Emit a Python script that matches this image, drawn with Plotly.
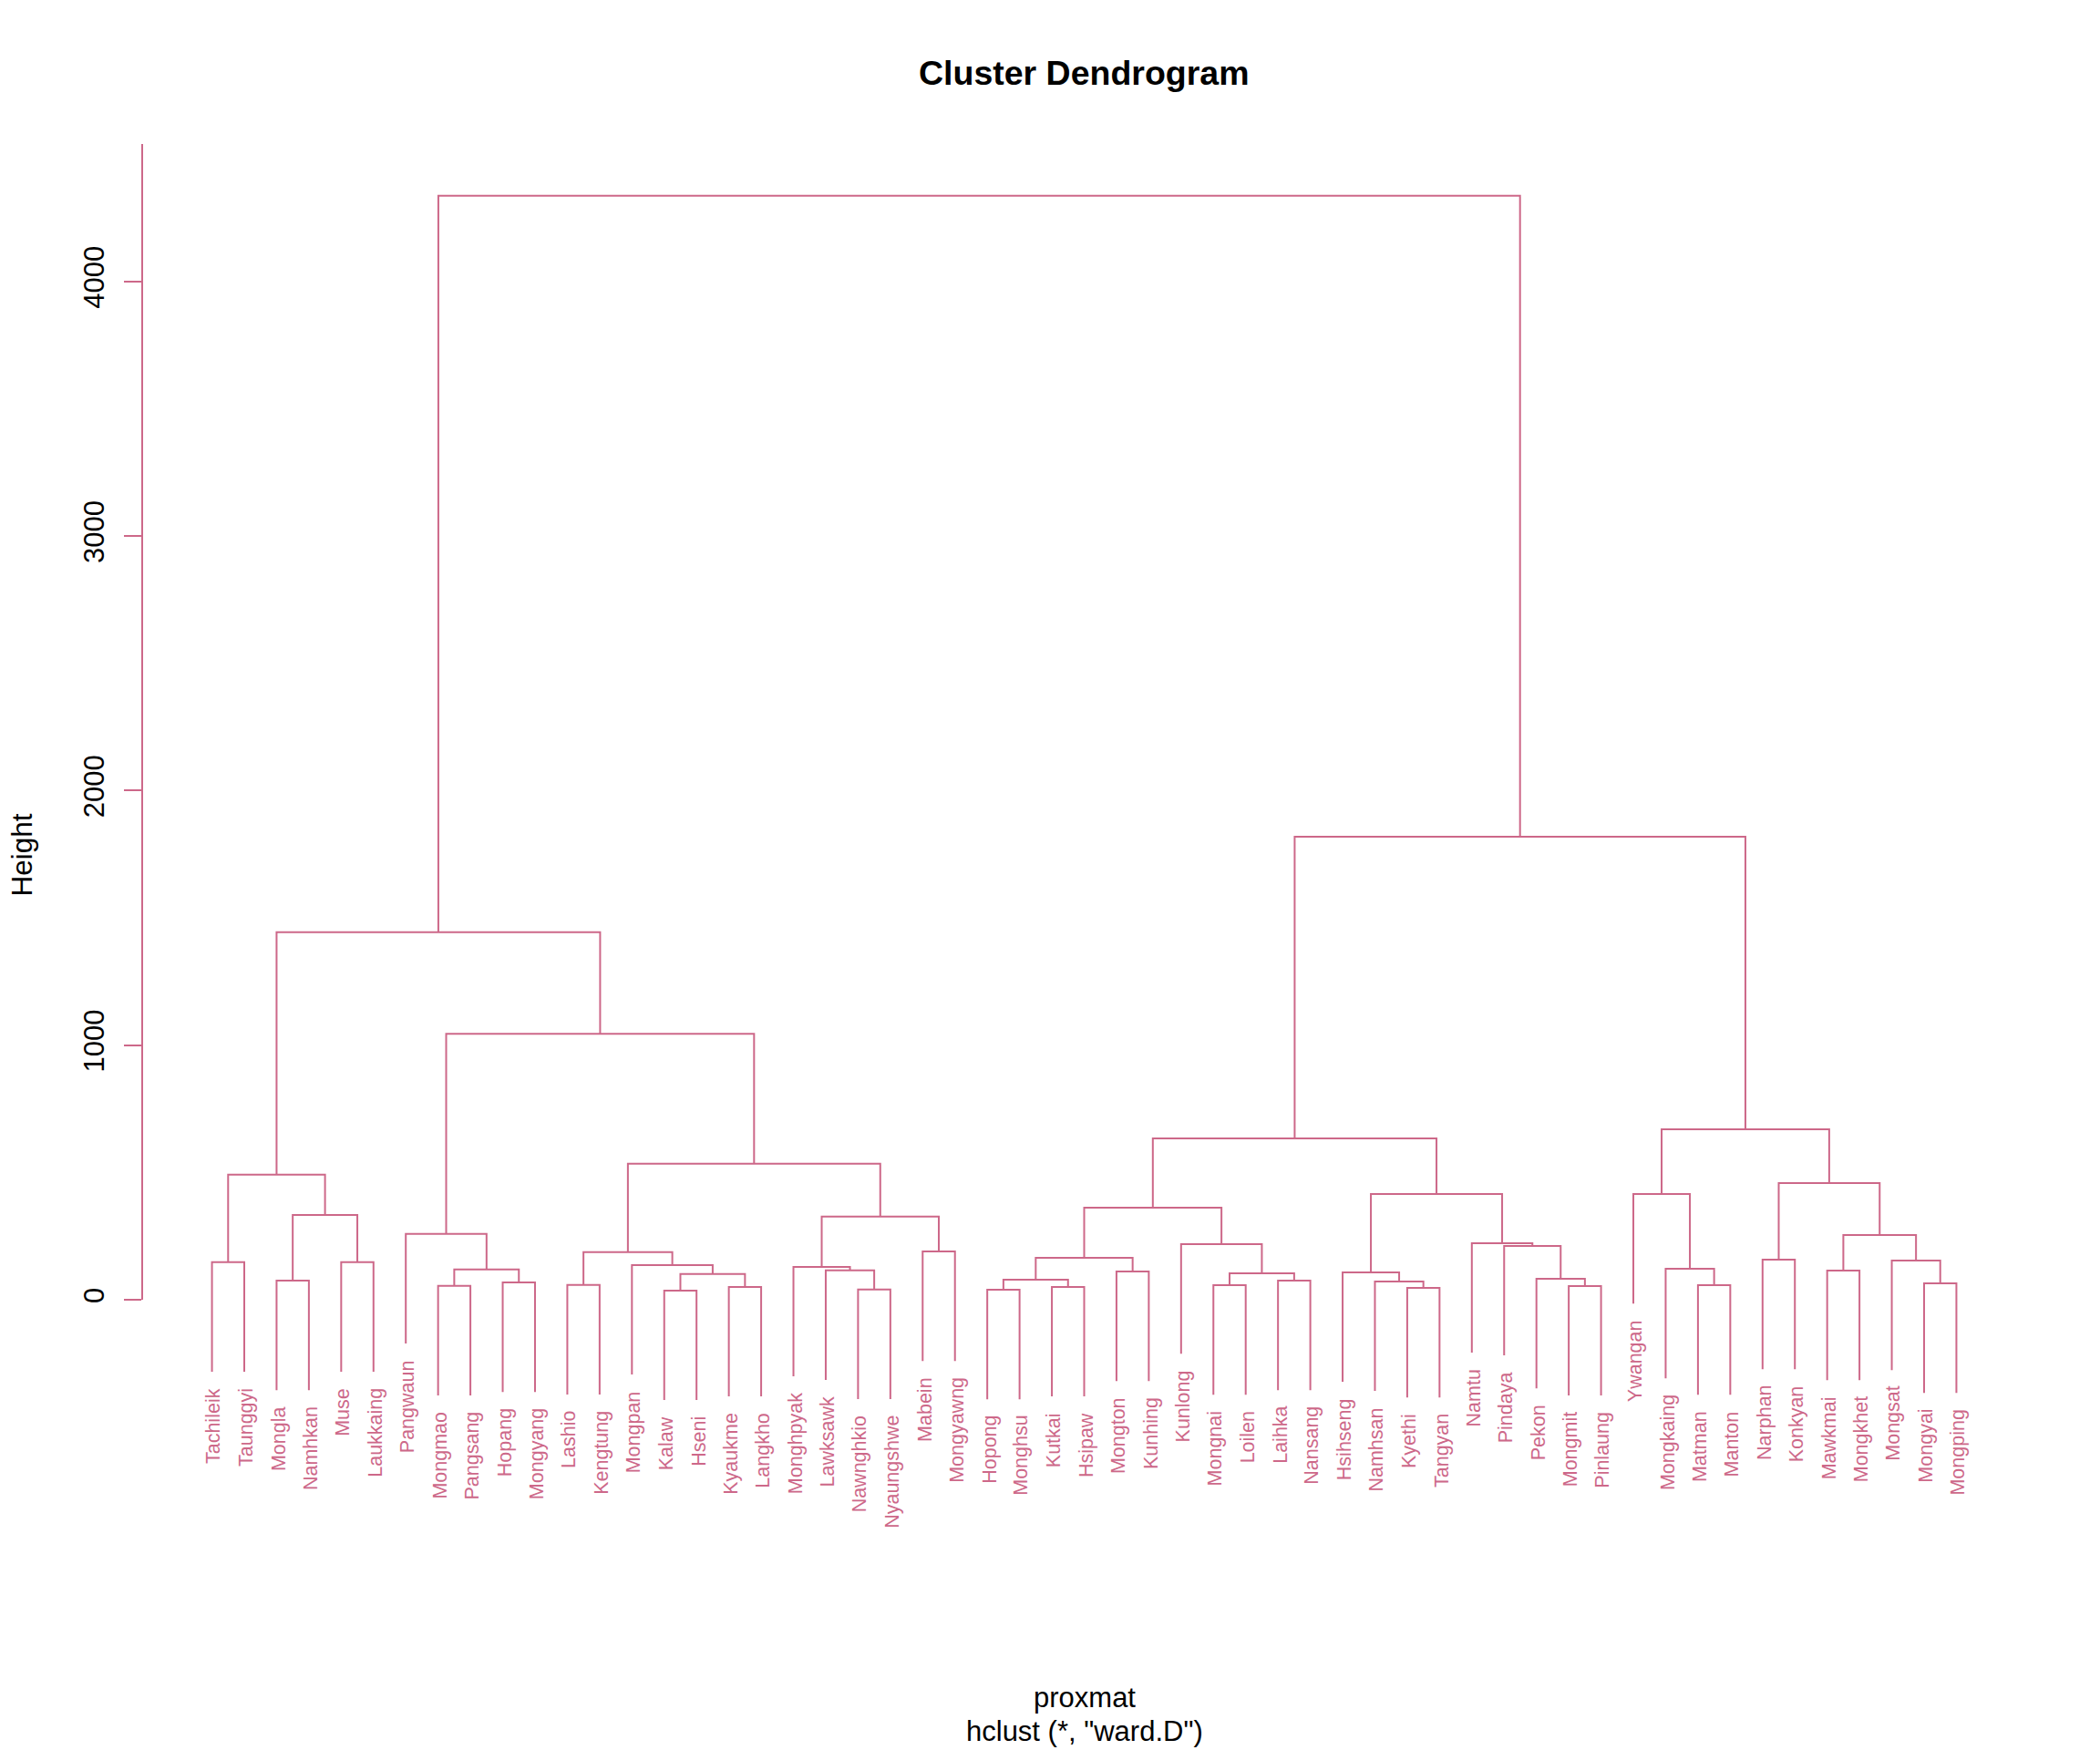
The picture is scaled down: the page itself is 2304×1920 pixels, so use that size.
import plotly.graph_objects as go

# ---------------- data ----------------
labels = [
    "Tachileik", "Taunggyi", "Mongla", "Namhkan", "Muse", "Laukkaing", "Pangwaun",
    "Mongmao", "Pangsang", "Hopang", "Mongyang", "Lashio", "Kengtung", "Mongpan",
    "Kalaw", "Hseni", "Kyaukme", "Langkho", "Monghpyak", "Lawksawk", "Nawnghkio",
    "Nyaungshwe", "Mabein", "Mongyawng", "Hopong", "Monghsu", "Kutkai", "Hsipaw",
    "Mongton", "Kunhing", "Kunlong", "Mongnai", "Loilen", "Laihka", "Nansang",
    "Hsihseng", "Namhsan", "Kyethi", "Tangyan", "Namtu", "Pindaya", "Pekon",
    "Mongmit", "Pinlaung", "Ywangan", "Mongkaing", "Matman", "Manton", "Narphan",
    "Konkyan", "Mawkmai", "Mongkhet", "Mongsat", "Mongyai", "Mongping",
]

# R-style merge matrix: negative = leaf (position in labels, 1-based), positive = earlier merge
merge_left = [-1, -3, -5, 2, 1, -8, -10, 6, -7, -12, -15, -17, 11, -14, 10, -21, -20, -19,
              -23, 18, 15, 9, 5, -25, -27, 24, -29, 26, -32, -34, 29, -31, 28, -38, -37,
              -36, -43, -42, -41, -40, 36, 33, -47, -46, -45, -49, -51, -54, -53, 47, 46,
              45, 42, 23]
merge_right = [-2, -4, -6, 3, 4, -9, -11, 7, 8, -13, -16, -18, 12, 13, 14, -22, 16, 17,
               -24, 19, 20, 21, 22, -26, -28, 25, -30, 27, -33, -35, 30, 31, 32, -39, 34,
               35, -44, 37, 38, 39, 40, 41, -48, 43, 44, -50, -52, -55, 48, 49, 50,
               51, 52, 53]
merge_height = [147, 74.8, 147, 333, 491, 54, 67.6, 118.5, 258, 57.5, 35.5, 49.8, 100.5,
                136, 186.5, 39.6, 115, 128.6, 189.4, 326, 534, 1044, 1444, 39, 49.8, 78.4,
                110.6, 164.4, 56.9, 74.8, 103.5, 218.1, 361.3, 46.2, 71.3, 107.1, 53.4, 82,
                211, 221.7, 415, 633.5, 56.9, 121.4, 415, 157.2, 114.2, 64.1, 153.6, 253.9,
                458, 669.4, 1818.8, 4337.4]

y_tick_values = [0, 1000, 2000, 3000, 4000]
y_tick_labels = ["0", "1000", "2000", "3000", "4000"]

title_text = "Cluster Dendrogram"
y_title = "Height"
x_title_1 = "proxmat"
x_title_2 = 'hclust (*, "ward.D")'

# ---------------- layout constants ----------------
W, H = 2304, 1920
COL = "#CD6889"
FONT = "Liberation Sans, Arial, sans-serif"
ML, MR, MT, MB = 156, 81, 158, 200
n = len(labels)
x_range = [1 - 0.04 * (n - 1), n + 0.04 * (n - 1)]
px_per_unit = 0.27925
y_top = (1425.9 - MT) / px_per_unit
y_bot = y_top - (H - MT - MB) / px_per_unit
PW, PH = W - ML - MR, H - MT - MB


def paper_x(px):
    return (px - ML) / PW


def paper_y(py):
    return (H - MB - py) / PH


# ---------------- build dendrogram geometry ----------------
hang = 0.1 * (max(merge_height) - min(merge_height))
merge_x = {}
leaf_end = {}
xs, ys = [], []
for i, (a, b, h) in enumerate(zip(merge_left, merge_right, merge_height), start=1):
    pts = []
    for c in (a, b):
        if c < 0:
            cx = -c
            cy = h - hang
            leaf_end[-c] = cy
        else:
            cx = merge_x[c]
            cy = merge_height[c - 1]
        pts.append((cx, cy))
    (xa, ya), (xb, yb) = pts
    merge_x[i] = (xa + xb) / 2
    xs += [xa, xa, xb, xb, None]
    ys += [ya, h, h, yb, None]

fig = go.Figure()
fig.add_trace(go.Scatter(x=xs, y=ys, mode="lines",
                         line=dict(color=COL, width=2), hoverinfo="skip",
                         showlegend=False, cliponaxis=False))

annotations = []
for k, lab in enumerate(labels, start=1):
    annotations.append(dict(
        x=k, y=leaf_end[k], xref="x", yref="y", text=lab, showarrow=False,
        textangle=-90, xanchor="center", yanchor="top", yshift=-16, xshift=2,
        font=dict(family=FONT, size=21.5, color=COL)))

annotations.append(dict(x=0.5, y=paper_y(80.3), xref="paper", yref="paper",
                        text="<b>" + title_text + "</b>", showarrow=False,
                        xanchor="center", yanchor="middle",
                        font=dict(family=FONT, size=37.5, color="black")))
annotations.append(dict(x=paper_x(23), y=paper_y(938.5), xref="paper", yref="paper",
                        text=y_title, showarrow=False, textangle=-90,
                        xanchor="center", yanchor="middle",
                        font=dict(family=FONT, size=31.5, color="black")))
annotations.append(dict(x=0.5, y=paper_y(1862.5), xref="paper", yref="paper",
                        text=x_title_1, showarrow=False,
                        xanchor="center", yanchor="middle",
                        font=dict(family=FONT, size=31, color="black")))
annotations.append(dict(x=0.5, y=paper_y(1900), xref="paper", yref="paper",
                        text=x_title_2, showarrow=False,
                        xanchor="center", yanchor="middle",
                        font=dict(family=FONT, size=31, color="black")))

fig.update_layout(
    width=W, height=H,
    margin=dict(l=ML, r=MR, t=MT, b=MB, pad=0),
    paper_bgcolor="white", plot_bgcolor="white",
    showlegend=False, hovermode=False,
    annotations=annotations,
    shapes=[dict(type="line", xref="paper", yref="y", x0=0, x1=0, y0=0, y1=y_top,
                 line=dict(color=COL, width=2))],
    xaxis=dict(range=x_range, showgrid=False, zeroline=False, showline=False,
               showticklabels=False, ticks="", fixedrange=True),
    yaxis=dict(range=[y_bot, y_top], showgrid=False, zeroline=False, showline=False,
               tickmode="array", tickvals=y_tick_values, ticktext=y_tick_labels,
               ticks="outside", ticklen=19, tickwidth=2, tickcolor=COL,
               tickangle=-90, ticklabelstandoff=10,
               tickfont=dict(family=FONT, size=31, color="black"),
               fixedrange=True),
)

fig.write_html("out.html")
